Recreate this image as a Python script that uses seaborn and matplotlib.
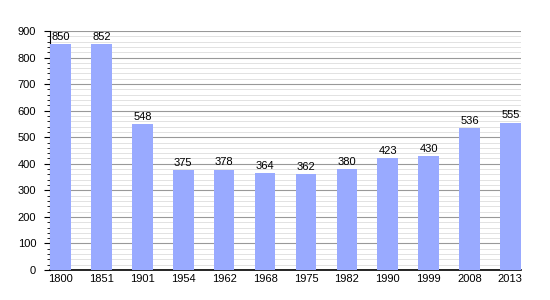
import matplotlib
matplotlib.use("Agg")
import matplotlib.pyplot as plt
import seaborn as sns
import pandas as pd
from matplotlib.ticker import MultipleLocator

years = ["1800", "1851", "1901", "1954", "1962", "1968", "1975", "1982", "1990", "1999", "2008", "2013"]
population = [850, 852, 548, 375, 378, 364, 362, 380, 423, 430, 536, 555]

df = pd.DataFrame({"year": years, "pop": population})

sns.set_style("white")
plt.rcParams['font.family'] = ['Liberation Sans', 'DejaVu Sans']
plt.rcParams['text.color'] = 'black'
plt.rcParams['xtick.color'] = 'black'
plt.rcParams['ytick.color'] = 'black'

fig = plt.figure(figsize=(5.5, 3.0), dpi=100)
ax = fig.add_axes([50/550, 1-270/300, (521-50)/550, (270-31)/300])

sns.barplot(data=df, x="year", y="pop", color="#99aaff", saturation=1, width=0.5,
            linewidth=0, ax=ax, zorder=3)

ax.set_ylim(0, 900)
ax.set_xlim(-0.26, len(years) - 0.74)
ax.yaxis.set_major_locator(MultipleLocator(100))
ax.yaxis.set_minor_locator(MultipleLocator(20))
ax.grid(which="major", axis="y", color="#999999", linewidth=0.8, zorder=0)
ax.grid(which="minor", axis="y", color="#dddddd", linewidth=0.6, zorder=0)
ax.set_axisbelow(True)

for s in ["top", "right"]:
    ax.spines[s].set_visible(False)
ax.spines["left"].set_color("black")
ax.spines["bottom"].set_color("black")
ax.spines["left"].set_linewidth(0.8)
ax.spines["bottom"].set_linewidth(1.2)

ax.tick_params(axis="y", which="major", length=4, width=0.8, labelsize=8, left=True, direction="out", pad=6, colors="black")
ax.tick_params(axis="y", which="minor", length=2, width=0.6, left=True, direction="out", colors="black")
ax.tick_params(axis="x", length=0, labelsize=8, pad=3, colors="black")
ax.set_xlabel("")
ax.set_ylabel("")

for i, v in enumerate(population):
    ax.text(i, v + 8, str(v), ha="center", va="bottom", fontsize=8, color="black", zorder=4)

fig.savefig("out.png", dpi=100)
